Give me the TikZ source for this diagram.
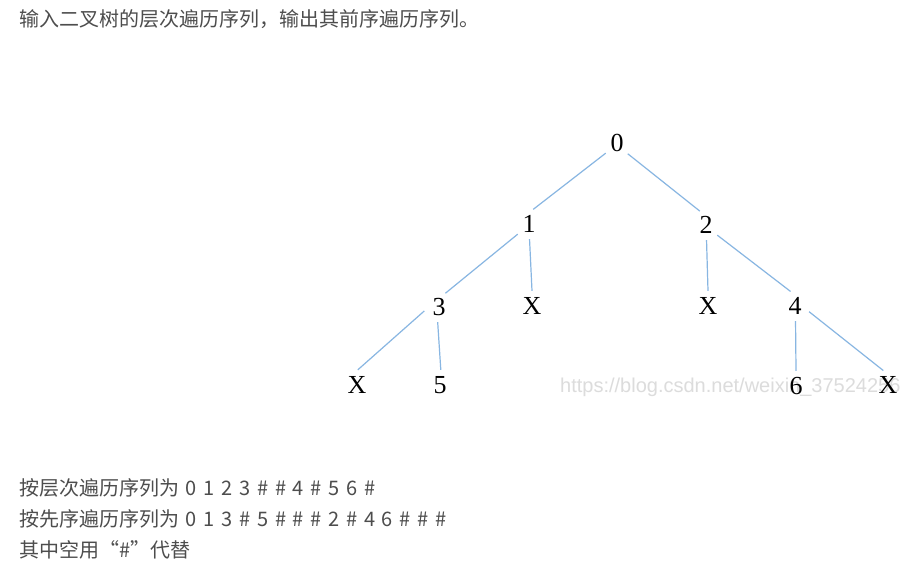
\documentclass[tikz,border=0pt]{standalone}
\usepackage{fontspec}
\newfontfamily\cjk[WordSpace=1.5]{Noto Sans CJK SC}
\newfontfamily\treefont{Liberation Serif}
\newfontfamily\wmfont{Liberation Sans}
\definecolor{txt}{HTML}{4D4D4D}
\definecolor{edge}{HTML}{88B6E2}
\definecolor{wm}{HTML}{DCDCDC}
\begin{document}
\begin{tikzpicture}[x=1pt,y=-1pt,
  tn/.style={circle,inner sep=0pt,minimum size=30pt,font=\treefont\fontsize{26}{28}\selectfont,text=black},
  ln/.style={anchor=west,inner sep=0pt,font=\cjk\fontsize{20}{23}\selectfont,text=txt},
  ed/.style={draw=edge,line width=1.2pt}]
\useasboundingbox (0,0) rectangle (912,565);
\fill[white] (0,0) rectangle (912,565);
\node[ln] (title) at (19,19) {输入二叉树的层次遍历序列，输出其前序遍历序列。};
% watermark
\node[anchor=west,inner sep=0pt,font=\wmfont\fontsize{20}{22}\selectfont,text=wm] (wmark) at (560,387) {https://blog.csdn.net/weixin\_37524256};
% tree
\node[tn] (n0) at (617,143) {0};
\node[tn] (n1) at (529,224) {1};
\node[tn] (n2) at (706,225) {2};
\node[tn] (n3) at (439,307) {3};
\node[tn] (x1) at (532,306) {X};
\node[tn] (x2) at (708,306) {X};
\node[tn] (n4) at (795,306) {4};
\node[tn] (x3) at (357,385) {X};
\node[tn] (n5) at (440,385) {5};
\node[tn] (n6) at (796,386) {6};
\node[tn] (x4) at (888,385) {X};
\draw[ed] (n0.222) -- (n1.74);
\draw[ed] (n0.315) -- (n2.114);
\draw[ed] (n1.222) -- (n3.65);
\draw[ed] (n1.272) -- (x1.90);
\draw[ed] (n2.272) -- (x2.90);
\draw[ed] (n2.318) -- (n4.107);
\draw[ed] (n3.195) -- (x3.87);
\draw[ed] (n3.265) -- (n5.87);
\draw[ed] (n4.272) -- (n6.90);
\draw[ed] (n4.338) -- (x4.108);
% bottom text
\node[ln] (l1) at (19,488) {按层次遍历序列为 0 1 2 3 \# \# 4 \# 5 6 \#};
\node[ln] (l2) at (19,519) {按先序遍历序列为 0 1 3 \# 5 \# \# \# 2 \# 4 6 \# \# \#};
\node[ln] (l3) at (19,550) {其中空用“\#”代替};
\end{tikzpicture}
\end{document}
